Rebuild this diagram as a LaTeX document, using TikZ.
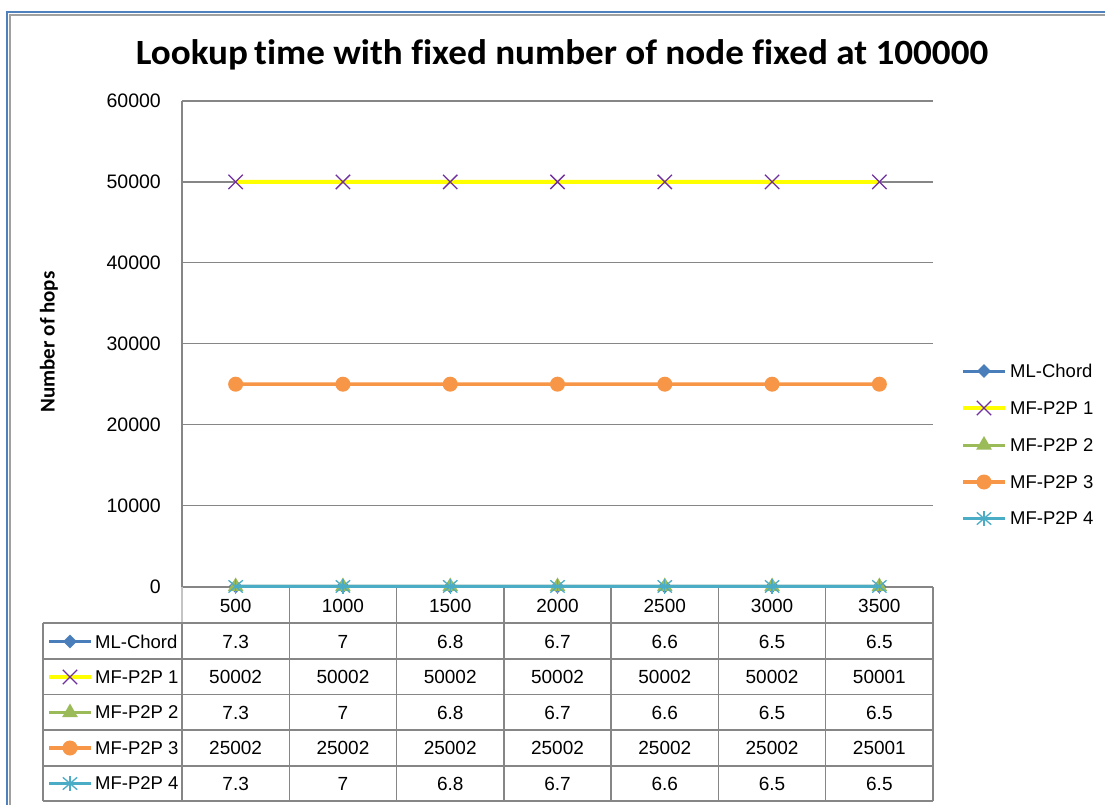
\documentclass[tikz,border=0pt]{standalone}
\usepackage{fontspec}
\setmainfont{Liberation Sans}
\newfontfamily\titlefont[Ligatures=NoCommon]{Carlito}
\usetikzlibrary{shapes.geometric,shapes.misc}

\definecolor{frameblue}{HTML}{4F81BD}
\definecolor{framegray}{HTML}{A0A0A0}
\definecolor{gridgray}{HTML}{868686}
\definecolor{lightgray}{HTML}{C4C4C4}
\definecolor{mlblue}{HTML}{4A7EBB}
\definecolor{mfyellow}{HTML}{FFFF00}
\definecolor{mfpurple}{HTML}{7030A0}
\definecolor{mfgreen}{HTML}{9BBB59}
\definecolor{mforange}{HTML}{F79646}
\definecolor{mfteal}{HTML}{4BACC6}

% y position of a value given in thousands
\newcommand{\ypos}[1]{586.5-(#1)*8.09167}

\tikzset{
  gridline/.style={draw=gridgray, line width=1.3pt},
  axisline/.style={draw=gridgray, line width=1.8pt},
  tablerule/.style={draw=gridgray, line width=1.5pt},
  ticklabel/.style={anchor=east, inner sep=0pt, font=\fontsize{19.5}{19.5}\selectfont},
  celltext/.style={inner sep=0pt, font=\fontsize{19}{19}\selectfont},
  legtext/.style={anchor=west, inner sep=0pt, font=\fontsize{18.5}{18.5}\selectfont},
  mlline/.style={draw=mlblue, line width=3pt},
  yline/.style={draw=mfyellow, line width=3.8pt},
  gline/.style={draw=mfgreen, line width=3pt},
  oline/.style={draw=mforange, line width=3.5pt},
  tline/.style={draw=mfteal, line width=3pt},
  mkdiamond/.style={diamond, fill=mlblue, inner sep=0pt, minimum width=14pt, minimum height=14pt},
  mkcross/.style={cross out, draw=mfpurple, line width=1.3pt, inner sep=0pt, minimum size=13pt},
  mktri/.style={regular polygon, regular polygon sides=3, fill=mfgreen, inner sep=0pt, minimum size=18pt},
  mkdot/.style={circle, fill=mforange, inner sep=0pt, minimum size=15pt},
  mkstar/.style={cross out, draw=mfteal, line width=1.3pt, inner sep=0pt, minimum width=13pt, minimum height=11pt},
  starbar/.style={draw=mfteal, line width=1.3pt},
}

\begin{document}
\begin{tikzpicture}[x=1pt, y=-1pt]
\fill[white] (0,0) rectangle (1105,805);
\useasboundingbox (0,0) rectangle (1105,805);

% chart frame
\draw[framegray, line width=1.5pt] (10,805) -- (10,15) -- (1105,15);
\draw[frameblue, line width=2.2pt] (7,805) -- (7,12) -- (1105,12);

% title and axis title
\node[anchor=base, inner sep=0pt, font=\titlefont\bfseries\fontsize{35.5}{35.5}\selectfont] (title) at (562,64.5)
  {\scalebox{1.045}[1]{Lookup\,time with fixed number of node fixed at 100000}};
\node[rotate=90, inner sep=0pt, font=\titlefont\bfseries\fontsize{21}{21}\selectfont] (ytitle) at (49,342) {Number of hops};

% horizontal gridlines and value labels
\def\cw{107.2857}
\foreach \k in {1,...,6}
  \draw[gridline] (182,{586.5-\k*80.92}) -- (933,{586.5-\k*80.92});
\foreach \k/\lab in {0/0,1/10000,2/20000,3/30000,4/40000,5/50000,6/60000}
  \node[ticklabel] (yt\k) at (161,{586.5-\k*80.92}) {\lab};

% axes
\draw[axisline] (182,101) -- (182,587);
\draw[axisline] (182,587) -- (933,587);

% data table rules
\draw[draw=lightgray, line width=1.5pt] (182,587) -- (182,623);
\foreach \j in {1,...,7}
  \draw[tablerule] ({182+\j*\cw},587) -- ({182+\j*\cw},801);
\draw[tablerule] (182,623) -- (182,801);
\draw[tablerule] (43,623) -- (43,801);
\foreach \r in {623,659,694.5,730,766,801}
  \draw[tablerule] (43,\r) -- (933,\r);

% category labels
\foreach \i/\lab in {1/500,2/1000,3/1500,4/2000,5/2500,6/3000,7/3500}
  \node[celltext] (cat\i) at ({182+(\i-0.5)*\cw},605.5) {\lab};

% table values
\foreach \i/\v in {1/7.3,2/7,3/6.8,4/6.7,5/6.6,6/6.5,7/6.5}
  \node[celltext] (tA\i) at ({182+(\i-0.5)*\cw},641.5) {\v};
\foreach \i/\v in {1/50002,2/50002,3/50002,4/50002,5/50002,6/50002,7/50001}
  \node[celltext] (tB\i) at ({182+(\i-0.5)*\cw},677) {\v};
\foreach \i/\v in {1/7.3,2/7,3/6.8,4/6.7,5/6.6,6/6.5,7/6.5}
  \node[celltext] (tC\i) at ({182+(\i-0.5)*\cw},712.5) {\v};
\foreach \i/\v in {1/25002,2/25002,3/25002,4/25002,5/25002,6/25002,7/25001}
  \node[celltext] (tD\i) at ({182+(\i-0.5)*\cw},748) {\v};
\foreach \i/\v in {1/7.3,2/7,3/6.8,4/6.7,5/6.6,6/6.5,7/6.5}
  \node[celltext] (tE\i) at ({182+(\i-0.5)*\cw},783.5) {\v};

% data points (values in thousands)
\foreach \i/\v in {1/0.0073,2/0.007,3/0.0068,4/0.0067,5/0.0066,6/0.0065,7/0.0065}
  \coordinate (ml\i) at ({182+(\i-0.5)*\cw},{\ypos{\v}});
\foreach \i/\v in {1/50.002,2/50.002,3/50.002,4/50.002,5/50.002,6/50.002,7/50.001}
  \coordinate (pa\i) at ({182+(\i-0.5)*\cw},{\ypos{\v}});
\foreach \i/\v in {1/0.0073,2/0.007,3/0.0068,4/0.0067,5/0.0066,6/0.0065,7/0.0065}
  \coordinate (pb\i) at ({182+(\i-0.5)*\cw},{\ypos{\v}});
\foreach \i/\v in {1/25.002,2/25.002,3/25.002,4/25.002,5/25.002,6/25.002,7/25.001}
  \coordinate (pc\i) at ({182+(\i-0.5)*\cw},{\ypos{\v}});
\foreach \i/\v in {1/0.0073,2/0.007,3/0.0068,4/0.0067,5/0.0066,6/0.0065,7/0.0065}
  \coordinate (pd\i) at ({182+(\i-0.5)*\cw},{\ypos{\v}});

% series: ML-Chord
\draw[mlline] (ml1) -- (ml2) -- (ml3) -- (ml4) -- (ml5) -- (ml6) -- (ml7);
\foreach \i in {1,...,7} \node[mkdiamond] (mlm\i) at (ml\i) {};
% series: MF-P2P 1
\draw[yline] (pa1) -- (pa2) -- (pa3) -- (pa4) -- (pa5) -- (pa6) -- (pa7);
\foreach \i in {1,...,7} \node[mkcross] (pam\i) at (pa\i) {};
% series: MF-P2P 2
\draw[gline] (pb1) -- (pb2) -- (pb3) -- (pb4) -- (pb5) -- (pb6) -- (pb7);
\foreach \i in {1,...,7} \node[mktri] (pbm\i) at (pb\i) {};
% series: MF-P2P 3
\draw[oline] (pc1) -- (pc2) -- (pc3) -- (pc4) -- (pc5) -- (pc6) -- (pc7);
\foreach \i in {1,...,7} \node[mkdot] (pcm\i) at (pc\i) {};
% series: MF-P2P 4
\draw[tline] (pd1) -- (pd2) -- (pd3) -- (pd4) -- (pd5) -- (pd6) -- (pd7);
\foreach \i in {1,...,7} {
  \node[mkstar] (pdm\i) at (pd\i) {};
  \draw[starbar] ([yshift=1.5pt]pdm\i.north) -- ([yshift=-1.5pt]pdm\i.south);
}

% legend keys: right-hand legend and table row headers
\foreach \x/\tx/\p/\ya/\yb/\yc/\yd/\ye in {963/1010/R/371/408/445/482/518.5, 49/95/T/641.5/677/712.5/748/783.5} {
  \coordinate (\p-a0) at (\x,\ya); \coordinate (\p-a1) at (\x+42,\ya);
  \draw[mlline] (\p-a0) -- (\p-a1);
  \node[mkdiamond] (\p-am) at (\x+21,\ya) {};
  \node[legtext] (\p-atx) at (\tx,\ya) {ML-Chord};
  \coordinate (\p-b0) at (\x,\yb); \coordinate (\p-b1) at (\x+42,\yb);
  \draw[yline] (\p-b0) -- (\p-b1);
  \node[mkcross] (\p-bm) at (\x+21,\yb) {};
  \node[legtext] (\p-btx) at (\tx,\yb) {MF-P2P 1};
  \coordinate (\p-c0) at (\x,\yc); \coordinate (\p-c1) at (\x+42,\yc);
  \draw[gline] (\p-c0) -- (\p-c1);
  \node[mktri] (\p-cm) at (\x+21,\yc) {};
  \node[legtext] (\p-ctx) at (\tx,\yc) {MF-P2P 2};
  \coordinate (\p-d0) at (\x,\yd); \coordinate (\p-d1) at (\x+42,\yd);
  \draw[oline] (\p-d0) -- (\p-d1);
  \node[mkdot] (\p-dm) at (\x+21,\yd) {};
  \node[legtext] (\p-dtx) at (\tx,\yd) {MF-P2P 3};
  \coordinate (\p-e0) at (\x,\ye); \coordinate (\p-e1) at (\x+42,\ye);
  \draw[tline] (\p-e0) -- (\p-e1);
  \node[mkstar] (\p-em) at (\x+21,\ye) {};
  \draw[starbar] ([yshift=1.5pt]\p-em.north) -- ([yshift=-1.5pt]\p-em.south);
  \node[legtext] (\p-etx) at (\tx,\ye) {MF-P2P 4};
}
\end{tikzpicture}
\end{document}
